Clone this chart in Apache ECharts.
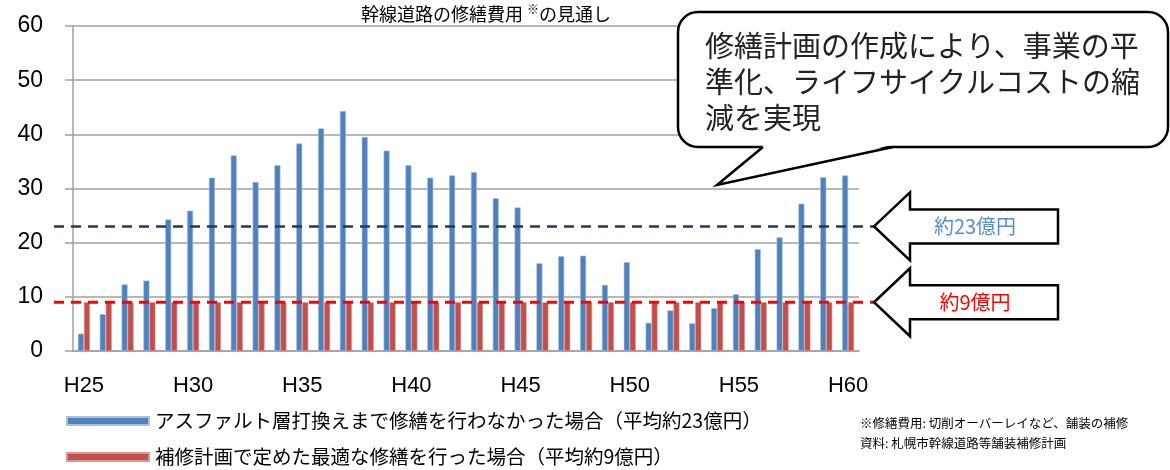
<!DOCTYPE html>
<html>
<head>
<meta charset="utf-8">
<script src="https://cdn.jsdelivr.net/npm/echarts@6/dist/echarts.min.js"></script>
<style>
  html, body { margin: 0; padding: 0; background: #fff; }
  #chart { width: 1170px; height: 470px; }
</style>
</head>
<body>
<div id="chart"></div>
<script>
// 年度 H25 ~ H60
const years = ['H25','H26','H27','H28','H29','H30','H31','H32','H33','H34','H35','H36',
  'H37','H38','H39','H40','H41','H42','H43','H44','H45','H46','H47','H48',
  'H49','H50','H51','H52','H53','H54','H55','H56','H57','H58','H59','H60']

// アスファルト層打換えまで修繕を行わなかった場合（億円）
const noRepair = [3.2, 6.8, 12.3, 13.0, 24.3, 25.9, 32.0, 36.1, 31.2, 34.3, 38.3, 41.1,
  44.3, 39.5, 37.0, 34.3, 32.0, 32.4, 33.0, 28.2, 26.5, 16.2, 17.5, 17.6,
  12.2, 16.4, 5.2, 7.5, 5.1, 7.9, 10.5, 18.8, 21.0, 27.2, 32.1, 32.4]

// 補修計画で定めた最適な修繕を行った場合（億円）
const planned = [9, 9, 9, 9, 9, 9, 9, 9, 9, 9, 9, 9,
  9, 9, 9, 9, 9, 9, 9, 9, 9, 9, 9, 9,
  9, 9, 9, 9, 9, 9, 9, 9, 9, 9, 9, 9]

// 平均値
const averages = [23, 9]
const averageLabels = ['約23億円', '約9億円']

const seriesNames = [
  'アスファルト層打換えまで修繕を行わなかった場合（平均約23億円）',
  '補修計画で定めた最適な修繕を行った場合（平均約9億円）',
]

const yTicks = { min: 0, max: 60, interval: 10 }

const jp = '"Noto Sans CJK JP", sans-serif'
const num = '"Liberation Sans", Arial, sans-serif'
const gray = '#A0A0A0'

const chart = echarts.init(document.getElementById('chart'))

// 凡例は1項目ずつ縦に並べる
const legendItem = (name, top) => ({
  left: 66,
  top: top,
  padding: 0,
  itemWidth: 82,
  itemHeight: 8,
  icon: 'rect',
  selectedMode: false,
  textStyle: { fontFamily: jp, fontSize: 19.5, color: '#000', lineHeight: 22, padding: [0, 0, 0, 1] },
  data: [name],
})

const option = {
  animation: false,
  backgroundColor: '#fff',
  title: {
    text: '{a|幹線道路の修繕費用 }{s|※}{a|の見通し}',
    left: 361,
    top: 3,
    padding: 0,
    textStyle: {
      rich: {
        a: { fontFamily: jp, fontSize: 18, fontWeight: 'normal', color: '#000', lineHeight: 22 },
        s: { fontFamily: jp, fontSize: 12, fontWeight: 'normal', color: '#000', lineHeight: 22, verticalAlign: 'top', padding: [0, 0, 8, 0] },
      },
    },
  },
  legend: [legendItem(seriesNames[0], 410), legendItem(seriesNames[1], 446)],
  grid: { left: 73, right: 311, top: 26, bottom: 119 },
  xAxis: {
    type: 'category',
    data: years,
    axisLine: { lineStyle: { color: gray, width: 1.5 } },
    axisTick: { interval: 0, length: 7, lineStyle: { color: gray, width: 1.5 } },
    axisLabel: { interval: 4, margin: 24, fontFamily: num, fontSize: 22, color: '#000' },
  },
  yAxis: {
    type: 'value',
    min: yTicks.min,
    max: yTicks.max,
    interval: yTicks.interval,
    axisLine: { show: true, lineStyle: { color: gray, width: 1.5 } },
    axisTick: { show: true, inside: false, length: 8, lineStyle: { color: gray, width: 1.5 } },
    axisLabel: { margin: 30, fontFamily: num, fontSize: 23, color: '#000' },
    splitLine: { lineStyle: { color: gray, width: 1.5 } },
  },
  series: [
    {
      name: seriesNames[0],
      type: 'bar',
      data: noRepair,
      barWidth: 6,
      barGap: '0%',
      itemStyle: { color: '#4F81BD', borderColor: '#A7C0DE', borderWidth: 0.6 },
    },
    {
      name: seriesNames[1],
      type: 'bar',
      data: planned,
      barWidth: 6,
      itemStyle: { color: '#C0504D', borderColor: '#D99694', borderWidth: 0.6 },
    },
  ],
}

chart.setOption(option)

// 平均線・矢印・吹き出し
const lineColors = ['#1F3864', '#FF0000']
const lineWidths = [2.5, 3]
const labelColors = ['#558ED5', '#FF0000']
const graphics = []

averages.forEach((v, i) => {
  const y = chart.convertToPixel({ yAxisIndex: 0 }, v)
  graphics.push({
    type: 'line',
    z: 100,
    shape: { x1: 54, y1: y, x2: 874, y2: y },
    style: { stroke: lineColors[i], lineWidth: lineWidths[i], lineDash: [10, 7] },
  })
  graphics.push({
    type: 'polygon',
    z: 100,
    shape: {
      points: [
        [874, y], [910, y - 34], [910, y - 17], [1058, y - 17],
        [1058, y + 17], [910, y + 17], [910, y + 34],
      ],
    },
    style: { fill: '#fff', stroke: '#000', lineWidth: 2.5, lineJoin: 'miter' },
  })
  graphics.push({
    type: 'text',
    z: 101,
    x: 975,
    y: y,
    style: {
      text: averageLabels[i],
      fontFamily: jp,
      fontSize: 20,
      fill: labelColors[i],
      align: 'center',
      verticalAlign: 'middle',
    },
  })
})

// 吹き出し本体
graphics.push({
  type: 'rect',
  z: 100,
  shape: { x: 678, y: 12, width: 490, height: 135, r: 20 },
  style: { fill: '#fff', stroke: '#000', lineWidth: 2.5 },
})
// しっぽ（白で枠線を消してから線を引く）
graphics.push({
  type: 'polygon',
  z: 101,
  shape: { points: [[764, 145], [717, 185], [892, 145]] },
  style: { fill: '#fff' },
})
graphics.push({
  type: 'polyline',
  z: 102,
  shape: { points: [[763, 147], [717, 185], [893, 147]] },
  style: { stroke: '#000', lineWidth: 2.5, fill: null, lineJoin: 'miter' },
})
graphics.push({
  type: 'text',
  z: 103,
  x: 705,
  y: 28,
  style: {
    text: '修繕計画の作成により、事業の平\n準化、ライフサイクルコストの縮\n減を実現',
    fontFamily: jp,
    fontSize: 29,
    lineHeight: 36,
    fill: '#222',
  },
})

graphics.push({
  type: 'text',
  x: 860,
  y: 413,
  style: {
    text: '※修繕費用: 切削オーバーレイなど、舗装の補修\n資料: 札幌市幹線道路等舗装補修計画',
    fontFamily: jp,
    fontSize: 12.5,
    lineHeight: 20,
    fill: '#000',
  },
})

chart.setOption({ graphic: graphics })
</script>
</body>
</html>
